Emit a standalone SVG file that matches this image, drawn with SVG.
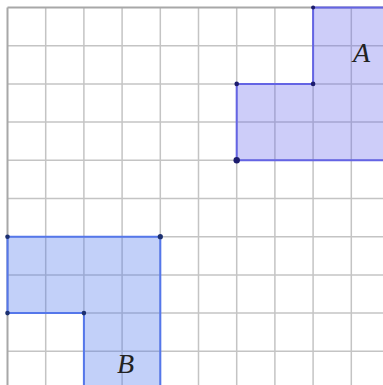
<svg xmlns="http://www.w3.org/2000/svg" width="383" height="385" viewBox="0 0 383 385">
<style>
.grid line{stroke:#c4c4c4;stroke-width:1.5}
.border{stroke:#a8a8a8;stroke-width:2}
.shapeA{fill:#6666ee;fill-opacity:0.33;stroke:#6464e4;stroke-width:2}
.shapeB{fill:#5078ee;fill-opacity:0.35;stroke:#5577ea;stroke-width:2}
.dotA{fill:#1c1c6e}
.dotB{fill:#1c3070}
.lbl{font-family:"Liberation Serif","DejaVu Serif",serif;font-style:italic;font-size:28px;fill:#222}
</style>
<rect width="383" height="385" fill="#ffffff"/>
<g class="grid">
<line x1="45.7" y1="7.5" x2="45.7" y2="385"/>
<line x1="83.9" y1="7.5" x2="83.9" y2="385"/>
<line x1="122.1" y1="7.5" x2="122.1" y2="385"/>
<line x1="160.3" y1="7.5" x2="160.3" y2="385"/>
<line x1="198.5" y1="7.5" x2="198.5" y2="385"/>
<line x1="236.7" y1="7.5" x2="236.7" y2="385"/>
<line x1="274.9" y1="7.5" x2="274.9" y2="385"/>
<line x1="313.1" y1="7.5" x2="313.1" y2="385"/>
<line x1="351.3" y1="7.5" x2="351.3" y2="385"/>
<line x1="7.5" y1="45.7" x2="383" y2="45.7"/>
<line x1="7.5" y1="83.9" x2="383" y2="83.9"/>
<line x1="7.5" y1="122.1" x2="383" y2="122.1"/>
<line x1="7.5" y1="160.3" x2="383" y2="160.3"/>
<line x1="7.5" y1="198.5" x2="383" y2="198.5"/>
<line x1="7.5" y1="236.7" x2="383" y2="236.7"/>
<line x1="7.5" y1="274.9" x2="383" y2="274.9"/>
<line x1="7.5" y1="313.1" x2="383" y2="313.1"/>
<line x1="7.5" y1="351.3" x2="383" y2="351.3"/>
</g>
<line class="border" x1="7.5" y1="7.5" x2="383" y2="7.5"/>
<line class="border" x1="7.5" y1="7.5" x2="7.5" y2="385"/>
<g id="shapeA">
<polygon class="shapeA" points="313.1,7.5 386,7.5 386,160.3 236.7,160.3 236.7,83.9 313.1,83.9"/>
<circle class="dotA" cx="313.1" cy="7.5" r="2"/>
<circle class="dotA" cx="236.7" cy="83.9" r="2.3"/>
<circle class="dotA" cx="313.1" cy="83.9" r="2.3"/>
<circle class="dotA" cx="236.7" cy="160.3" r="3.2"/>
<text class="lbl" x="353" y="62">A</text>
</g>
<g id="shapeB">
<polygon class="shapeB" points="7.5,236.7 160.3,236.7 160.3,388 83.9,388 83.9,313.1 7.5,313.1"/>
<circle class="dotB" cx="7.5" cy="236.7" r="2.3"/>
<circle class="dotB" cx="160.3" cy="236.7" r="2.6"/>
<circle class="dotB" cx="7.5" cy="313.1" r="2.3"/>
<circle class="dotB" cx="83.9" cy="313.1" r="2.3"/>
<text class="lbl" x="117" y="373">B</text>
</g>
<g id="connectors"/>
</svg>
